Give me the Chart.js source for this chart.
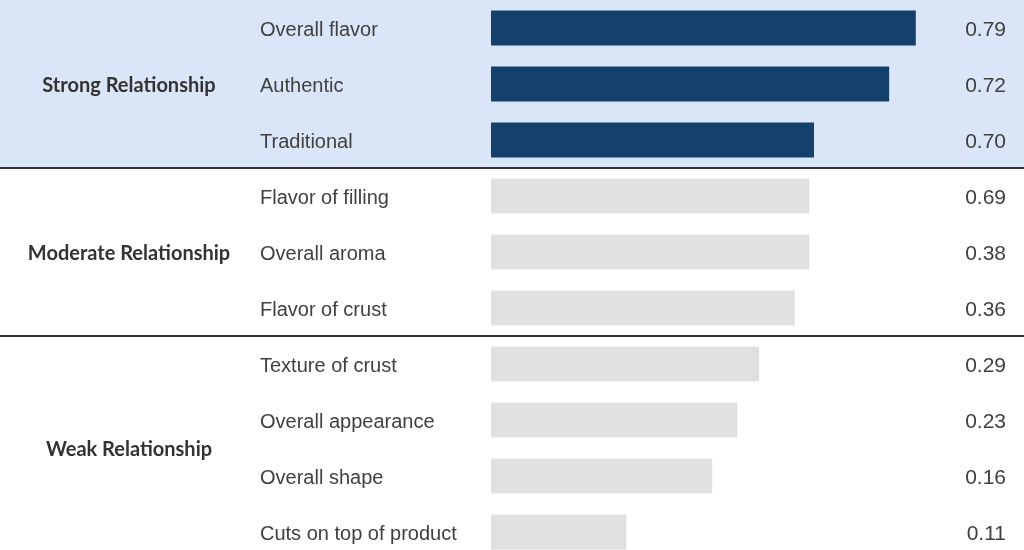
<!DOCTYPE html>
<html>
<head>
<meta charset="utf-8">
<script src="https://cdn.jsdelivr.net/npm/chart.js@4/dist/chart.umd.min.js"></script>
<style>
  html, body { margin: 0; padding: 0; background: #fff; overflow: hidden; }
  #wrap { position: relative; width: 1024px; height: 560px; }
</style>
</head>
<body>
<div id="wrap"><canvas id="chart"></canvas></div>
<script>
const attributes = [
  "Overall flavor", "Authentic", "Traditional",
  "Flavor of filling", "Overall aroma", "Flavor of crust",
  "Texture of crust", "Overall appearance", "Overall shape", "Cuts on top of product"
];
// bar lengths as drawn in the picture (share of the plot width)
const barLengths = [0.797, 0.747, 0.606, 0.597, 0.597, 0.570, 0.503, 0.462, 0.415, 0.254];
// numbers printed at the right
const valueLabels = ["0.79", "0.72", "0.70", "0.69", "0.38", "0.36", "0.29", "0.23", "0.16", "0.11"];
const groups = ["Strong Relationship", "Moderate Relationship", "Weak Relationship"];
const groupRows = [[0, 2], [3, 5], [6, 9]];

const strongColor = "#14406c";
const otherColor = "#e0e0e0";
const textColor = "#404040";

const overlay = {
  id: "overlay",
  beforeDraw(chart) {
    const ctx = chart.ctx;
    const y = chart.scales.y;
    const half = (y.getPixelForValue(1) - y.getPixelForValue(0)) / 2;
    ctx.save();
    // shaded strong group
    const bottom = y.getPixelForValue(groupRows[0][1]) + half;
    ctx.fillStyle = "#dae6f7";
    ctx.fillRect(0, 0, chart.width, bottom);
    ctx.restore();
  },
  afterDraw(chart) {
    const ctx = chart.ctx;
    const y = chart.scales.y;
    const half = (y.getPixelForValue(1) - y.getPixelForValue(0)) / 2;
    ctx.save();
    // separators
    ctx.strokeStyle = "#333";
    ctx.lineWidth = 2;
    [groupRows[0][1], groupRows[1][1]].forEach(r => {
      const py = Math.round(y.getPixelForValue(r) + half);
      ctx.beginPath();
      ctx.moveTo(0, py);
      ctx.lineTo(chart.width, py);
      ctx.stroke();
    });
    ctx.textBaseline = "middle";
    ctx.fillStyle = textColor;
    // attribute names
    ctx.font = "20px 'Liberation Sans', Arial, sans-serif";
    ctx.textAlign = "left";
    attributes.forEach((a, i) => ctx.fillText(a, 260, y.getPixelForValue(i) + 2));
    // values
    ctx.textAlign = "right";
    ctx.font = "21px 'Liberation Sans', Arial, sans-serif";
    valueLabels.forEach((v, i) => ctx.fillText(v, 1006, y.getPixelForValue(i) + 2));
    // group titles
    ctx.textAlign = "center";
    ctx.font = "bold 20px Lato, 'Open Sans', sans-serif";
    ctx.fillStyle = "#333";
    groups.forEach((g, i) => {
      const mid = (y.getPixelForValue(groupRows[i][0]) + y.getPixelForValue(groupRows[i][1])) / 2;
      ctx.fillText(g, 129, mid + 2);
    });
    ctx.restore();
  }
};

new Chart(document.getElementById("chart"), {
  type: "bar",
  data: {
    labels: attributes,
    datasets: [{
      data: barLengths,
      backgroundColor: barLengths.map((_, i) => i <= groupRows[0][1] ? strongColor : otherColor),
      categoryPercentage: 1,
      barPercentage: 0.625,
      borderWidth: 0
    }]
  },
  options: {
    indexAxis: "y",
    responsive: true,
    maintainAspectRatio: false,
    animation: false,
    layout: { padding: { left: 491, right: 0, top: 0, bottom: 0 } },
    plugins: { legend: { display: false }, tooltip: { enabled: false } },
    scales: {
      x: { display: false, min: 0, max: 1 },
      y: { display: false }
    }
  },
  plugins: [overlay]
});
</script>
</body>
</html>
